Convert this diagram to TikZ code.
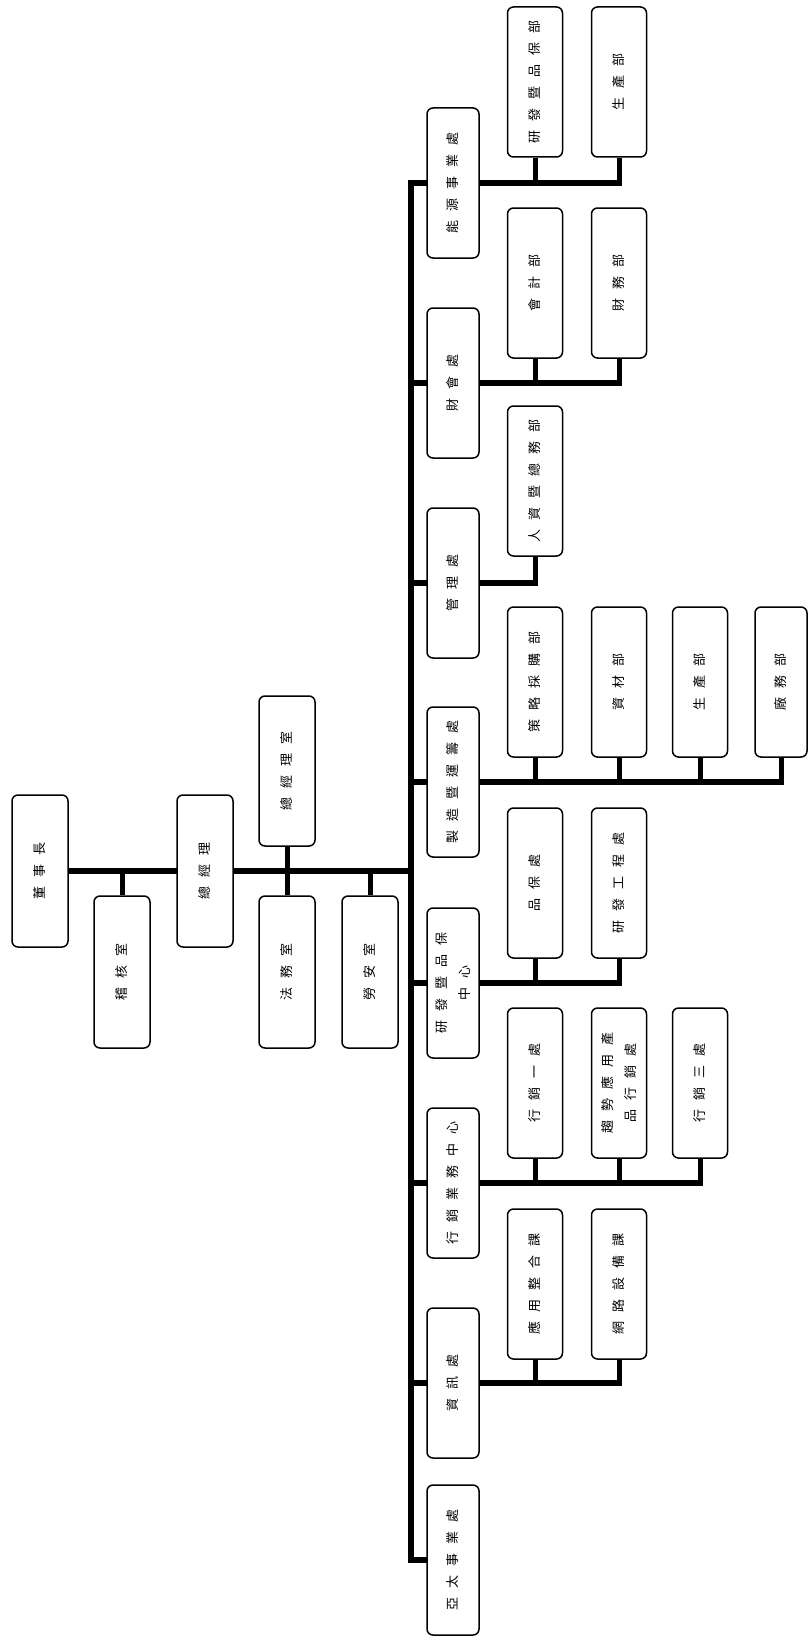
\documentclass[tikz,border=0pt]{standalone}
\usepackage{fontspec}
\usepackage{graphicx}
\usetikzlibrary{backgrounds}
\newfontfamily\cjk{Noto Sans CJK TC}
\newcommand{\vt}[1]{\rotatebox{90}{\spaceskip 9pt\relax\begin{tabular}{@{}c@{}}#1\end{tabular}}}
\begin{document}
\begin{tikzpicture}[x=1pt,y=-1pt,
  box/.style={draw, fill=white, line width=1.5pt, rounded corners=6pt,
    minimum width=55pt, minimum height=150pt, inner sep=0pt,
    font=\cjk\fontsize{13}{23}\selectfont},
  divbox/.style={box, minimum width=52pt},
  trunk/.style={line width=6pt, line cap=rect},
  stub/.style={line width=5pt}]
\useasboundingbox (0,0) rectangle (808,1640);

% top level
\node[box, minimum width=56pt, minimum height=152pt] (chair) at (40,871) {\vt{董 事 長}};
\node[box, minimum width=56pt, minimum height=152pt] (audit) at (122,972) {\vt{稽 核 室}};
\node[box, minimum width=56pt, minimum height=152pt] (gm) at (205,871) {\vt{總 經 理}};
\node[box, minimum width=56pt, minimum height=150pt] (gmo) at (287,771) {\vt{總 經 理 室}};
\node[box, minimum width=56pt, minimum height=152pt] (legal) at (287,972) {\vt{法 務 室}};
\node[box, minimum width=56pt, minimum height=152pt] (safety) at (370,972) {\vt{勞 安 室}};

\coordinate (spinetop) at (411,183);
\coordinate (spinebot) at (411,1560);

% divisions
\node[divbox] (energy) at (453,183) {\vt{能 源 事 業 處}};
\node[divbox] (fin) at (453,383) {\vt{財 會 處}};
\node[divbox] (mgmt) at (453,583) {\vt{管 理 處}};
\node[divbox] (mfg) at (453,782) {\vt{製 造 暨 運 籌 處}};
\node[divbox] (rd) at (453,983) {\vt{研 發 暨 品 保\\中 心}};
\node[divbox] (sales) at (453,1183) {\vt{行 銷 業 務 中 心}};
\node[divbox] (it) at (453,1383) {\vt{資 訊 處}};
\node[divbox] (ap) at (453,1560) {\vt{亞 太 事 業 處}};

% children
\node[box] (e1) at (535,82) {\vt{研 發 暨 品 保 部}};
\node[box] (e2) at (619,82) {\vt{生 產 部}};
\node[box] (f1) at (535,283) {\vt{會 計 部}};
\node[box] (f2) at (619,283) {\vt{財 務 部}};
\node[box] (m1) at (535,481) {\vt{人 資 暨 總 務 部}};
\node[box] (p1) at (535,682) {\vt{策 略 採 購 部}};
\node[box] (p2) at (619,682) {\vt{資 材 部}};
\node[box] (p3) at (700,682) {\vt{生 產 部}};
\node[box, minimum width=52pt] (p4) at (781,682) {\vt{廠 務 部}};
\node[box] (r1) at (535,883) {\vt{品 保 處}};
\node[box] (r2) at (619,883) {\vt{研 發 工 程 處}};
\node[box] (s1) at (535,1083) {\vt{行 銷 一 處}};
\node[box] (s2) at (619,1083) {\vt{趨 勢 應 用 產\\品 行 銷 處}};
\node[box] (s3) at (700,1083) {\vt{行 銷 三 處}};
\node[box] (i1) at (535,1284) {\vt{應 用 整 合 課}};
\node[box] (i2) at (619,1284) {\vt{網 路 設 備 課}};

\begin{pgfonlayer}{background}
  % top level
  \draw[trunk] (chair.east) -- (gm.west);
  \draw[stub] (audit.north) -- (audit.north |- chair.east);
  \draw[trunk] (gm.east) -- (gm.east -| spinetop);
  \draw[stub] (gmo.south) -- (legal.north);
  \draw[stub] (safety.north) -- (safety.north |- gm.east);
  \draw[trunk] (spinetop) -- (spinebot);
  % divisions to spine
  \foreach \d in {energy,fin,mgmt,mfg,rd,sales,it,ap}
    \draw[trunk] (\d.west -| spinetop) -- (\d.west);
  % divisions to children
  \draw[trunk] (energy.east) -- (energy.east -| e2.south);
  \draw[stub] (e1.south) -- (e1.south |- energy.east);
  \draw[stub] (e2.south) -- (e2.south |- energy.east);
  \draw[trunk] (fin.east) -- (fin.east -| f2.south);
  \draw[stub] (f1.south) -- (f1.south |- fin.east);
  \draw[stub] (f2.south) -- (f2.south |- fin.east);
  \draw[trunk] (mgmt.east) -- (mgmt.east -| m1.south);
  \draw[stub] (m1.south) -- (m1.south |- mgmt.east);
  \draw[trunk] (mfg.east) -- (mfg.east -| p4.south);
  \foreach \c in {p1,p2,p3,p4}
    \draw[stub] (\c.south) -- (\c.south |- mfg.east);
  \draw[trunk] (rd.east) -- (rd.east -| r2.south);
  \foreach \c in {r1,r2}
    \draw[stub] (\c.south) -- (\c.south |- rd.east);
  \draw[trunk] (sales.east) -- (sales.east -| s3.south);
  \foreach \c in {s1,s2,s3}
    \draw[stub] (\c.south) -- (\c.south |- sales.east);
  \draw[trunk] (it.east) -- (it.east -| i2.south);
  \foreach \c in {i1,i2}
    \draw[stub] (\c.south) -- (\c.south |- it.east);
\end{pgfonlayer}
\end{tikzpicture}
\end{document}
